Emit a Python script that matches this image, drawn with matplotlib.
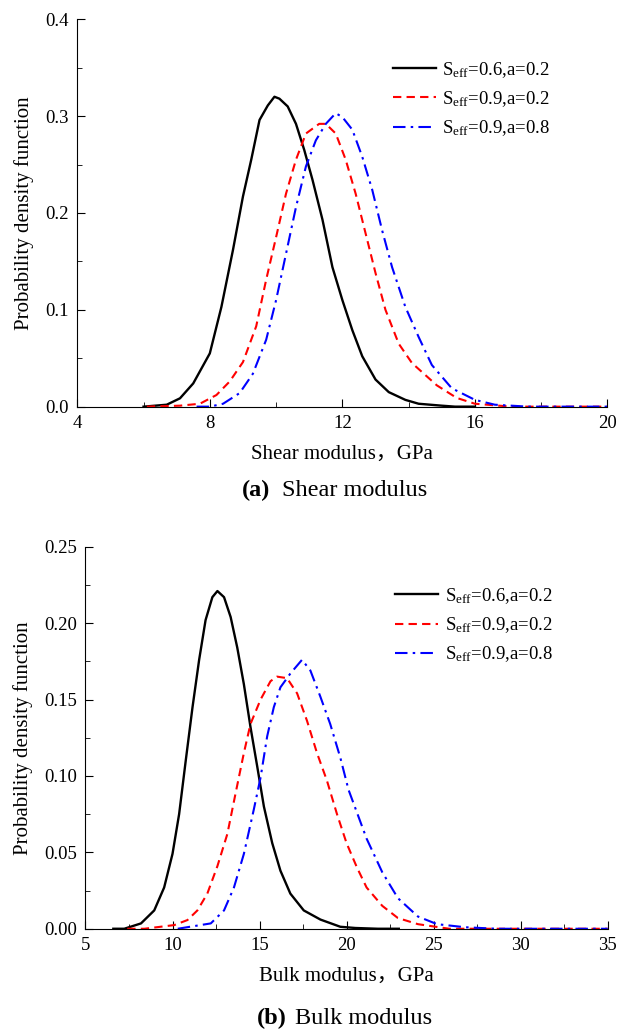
import numpy as np
import matplotlib
matplotlib.use("Agg")
import matplotlib.pyplot as plt
from matplotlib.ticker import MultipleLocator, AutoMinorLocator, FormatStrFormatter

plt.rcParams['font.family'] = ['Liberation Serif', 'Noto Sans CJK SC']
plt.rcParams['mathtext.fontset'] = 'custom'
plt.rcParams['mathtext.rm'] = 'Liberation Serif'
plt.rcParams['mathtext.it'] = 'Liberation Serif:italic'

labels = [r'S$_{\rm eff}$=0.6,a=0.2', r'S$_{\rm eff}$=0.9,a=0.2', r'S$_{\rm eff}$=0.9,a=0.8']

# (a) shear modulus
shear_x1 = [6.0, 6.7, 7.1, 7.5, 8.0, 8.35, 8.7, 9.0, 9.25, 9.5, 9.75, 9.95, 10.1, 10.35, 10.6, 10.85,
            11.1, 11.4, 11.7, 12.0, 12.3, 12.6, 13.0, 13.4, 13.9, 14.3, 15.0, 15.4, 16.0]
shear_y1 = [0.0, 0.002, 0.0086, 0.024, 0.055, 0.103, 0.162, 0.217, 0.255, 0.296, 0.311, 0.320, 0.318, 0.310,
            0.292, 0.265, 0.234, 0.193, 0.144, 0.110, 0.079, 0.052, 0.028, 0.015, 0.007, 0.003, 0.001, 0.0, 0.0]
shear_x2 = [6.1, 7.1, 7.7, 8.2, 8.6, 9.0, 9.4, 9.7, 10.0, 10.3, 10.6, 10.9, 11.3, 11.5, 11.8, 12.1, 12.4,
            12.7, 13.0, 13.3, 13.7, 14.1, 14.85, 15.45, 16.0, 17.1, 20.0]
shear_y2 = [0.0, 0.001, 0.003, 0.012, 0.026, 0.046, 0.083, 0.131, 0.175, 0.220, 0.255, 0.282, 0.292, 0.292,
            0.282, 0.255, 0.220, 0.179, 0.138, 0.100, 0.065, 0.045, 0.022, 0.009, 0.003, 0.0, 0.0]
shear_x3 = [7.6, 8.0, 8.4, 8.9, 9.3, 9.7, 10.0, 10.3, 10.6, 10.9, 11.2, 11.5, 11.8, 12.0, 12.3, 12.6, 12.9,
            13.2, 13.5, 13.9, 14.3, 14.7, 15.3, 16.0, 16.6, 17.6, 20.0]
shear_y3 = [0.0, 0.0, 0.003, 0.014, 0.034, 0.069, 0.110, 0.158, 0.206, 0.248, 0.275, 0.292, 0.303, 0.299,
            0.286, 0.258, 0.224, 0.182, 0.144, 0.103, 0.072, 0.043, 0.019, 0.007, 0.002, 0.0, 0.0]

# (b) bulk modulus
bulk_x1 = [6.6, 7.23, 8.19, 8.95, 9.52, 10.0, 10.38, 10.76, 11.15, 11.53, 11.9, 12.29, 12.58, 12.96, 13.34,
           13.72, 14.1, 14.48, 14.87, 15.25, 15.73, 16.2, 16.77, 17.54, 18.5, 19.64, 20.5, 21.8, 23.0]
bulk_y1 = [0.0, 0.0, 0.0035, 0.012, 0.027, 0.049, 0.075, 0.110, 0.145, 0.176, 0.202, 0.217, 0.221, 0.217,
           0.204, 0.184, 0.160, 0.132, 0.106, 0.080, 0.056, 0.038, 0.023, 0.012, 0.006, 0.0013, 0.0005, 0.0, 0.0]
bulk_x2 = [7.4, 8.38, 10.1, 10.86, 11.43, 12.0, 12.58, 13.15, 13.63, 14.1, 14.48, 15.06, 15.63, 16.0, 16.58,
           17.16, 17.73, 18.3, 18.87, 19.45, 20.0, 20.6, 21.15, 22.05, 22.95, 24.1, 25.9, 35.0]
bulk_y2 = [0.0, 0.0, 0.0024, 0.0057, 0.012, 0.023, 0.041, 0.062, 0.089, 0.115, 0.134, 0.150, 0.162, 0.165,
           0.164, 0.154, 0.136, 0.115, 0.097, 0.075, 0.056, 0.040, 0.027, 0.015, 0.007, 0.003, 0.0, 0.0]
bulk_x3 = [10.3, 12.2, 12.96, 13.53, 14.1, 14.67, 15.06, 15.44, 15.82, 16.2, 16.77, 17.44, 17.92, 18.49,
           19.06, 19.64, 20.11, 21.15, 22.05, 22.95, 24.1, 25.2, 26.8, 28.6, 35.0]
bulk_y3 = [0.0, 0.0035, 0.012, 0.027, 0.049, 0.078, 0.099, 0.126, 0.145, 0.158, 0.167, 0.176, 0.169, 0.152,
           0.134, 0.112, 0.091, 0.059, 0.037, 0.020, 0.008, 0.003, 0.001, 0.0, 0.0]

styles = [dict(color='black', ls='-', lw=1.7),
          dict(color='red', ls=(0, (4, 2.5)), lw=1.5),
          dict(color='blue', ls=(0, (6, 2.5, 1.2, 2.5)), lw=1.5)]

fig = plt.figure(figsize=(6.18, 10.3), dpi=100)
ax1 = fig.add_axes([0.125, 0.6052, 0.858, 0.3761])
ax2 = fig.add_axes([0.1383, 0.0983, 0.845, 0.3709])


def draw(ax, series, xlim, xstep, ylim, ystep, yfmt, xlabel, leg_xy):
    for (x, y), lab, st in zip(series, labels, styles):
        ax.plot(x, y, label=lab, **st)
    ax.set_xlim(*xlim)
    ax.set_ylim(*ylim)
    ax.xaxis.set_major_locator(MultipleLocator(xstep))
    ax.yaxis.set_major_locator(MultipleLocator(ystep))
    ax.xaxis.set_minor_locator(AutoMinorLocator(2))
    ax.yaxis.set_minor_locator(AutoMinorLocator(2))
    ax.yaxis.set_major_formatter(FormatStrFormatter(yfmt))
    for s in ['top', 'right']:
        ax.spines[s].set_visible(False)
    ax.tick_params(which='both', direction='in', labelsize=13.5)
    ax.tick_params(which='major', length=6, pad=6)
    ax.tick_params(which='minor', length=3.5)
    ax.set_xlabel(xlabel, fontsize=15, labelpad=9)
    ax.set_ylabel('Probability density function', fontsize=15, labelpad=8)
    ax.legend(loc='upper left', bbox_to_anchor=leg_xy, frameon=False, borderpad=0,
              borderaxespad=0, fontsize=13.5, handlelength=2.3, handletextpad=0.35,
              labelspacing=0.5)


draw(ax1, [(shear_x1, shear_y1), (shear_x2, shear_y2), (shear_x3, shear_y3)],
     (4, 20), 4, (0, 0.4), 0.1, '%.1f', 'Shear modulus，GPa', (0.595, 0.895))
draw(ax2, [(bulk_x1, bulk_y1), (bulk_x2, bulk_y2), (bulk_x3, bulk_y3)],
     (5, 35), 5, (0, 0.25), 0.05, '%.2f', 'Bulk modulus，GPa', (0.593, 0.897))

fig.text(242 / 618, 1 - 490 / 1030, '(a)', fontsize=17.5, fontweight='bold', ha='left', va='center')
fig.text(282 / 618, 1 - 490 / 1030, 'Shear modulus', fontsize=17.5, ha='left', va='center')
fig.text(257 / 618, 1 - 1018 / 1030, '(b)', fontsize=17.5, fontweight='bold', ha='left', va='center')
fig.text(295 / 618, 1 - 1018 / 1030, 'Bulk modulus', fontsize=17.5, ha='left', va='center')

fig.savefig('out.png', dpi=100)
